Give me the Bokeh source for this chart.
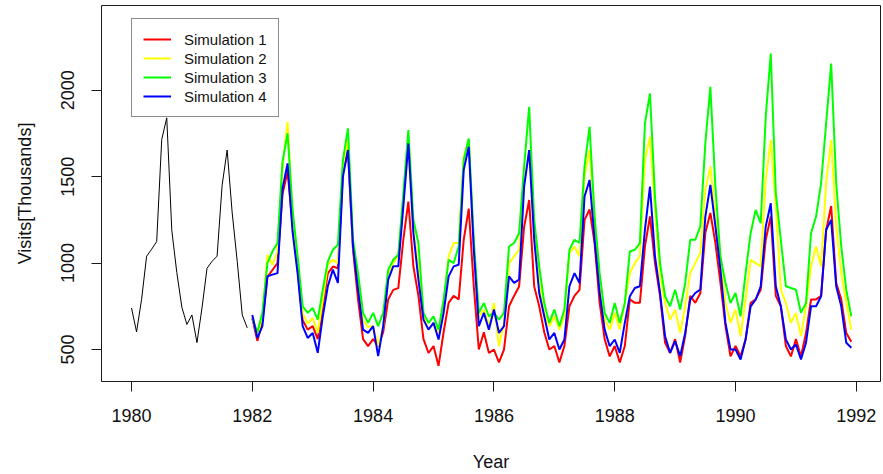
import numpy as np
from bokeh.plotting import figure
from bokeh.models import Legend, LegendItem, Range1d, FixedTicker
from bokeh.embed import file_html
from bokeh.resources import INLINE

# ---------------- data ----------------
hist_start = 1980
sim_start = 1982

history = [740, 602, 790, 1040, 1080, 1125, 1715, 1840, 1190, 945, 745, 645,
           700, 540, 740, 970, 1010, 1040, 1450, 1654, 1290, 1010, 700, 625]

sim1 = [680, 550, 660, 920, 960, 1000, 1400, 1530, 1220, 960, 670, 615,
        635, 560, 750, 940, 980, 970, 1520, 1660, 1080, 790, 560, 520,
        560, 520, 600, 790, 845, 855, 1135, 1356, 980, 810, 560, 480,
        520, 405, 600, 770, 810, 790, 1135, 1315, 865, 500, 600, 480,
        500, 425, 500, 750, 810, 865, 1210, 1365, 865, 750, 600, 500,
        520, 425, 520, 750, 810, 845, 1250, 1310, 1115, 770, 560, 460,
        520, 425, 520, 790, 770, 770, 1095, 1270, 1000, 810, 540, 480,
        560, 425, 580, 810, 770, 825, 1175, 1290, 1115, 885, 635, 460,
        520, 460, 560, 770, 790, 845, 1135, 1270, 810, 750, 520, 460,
        560, 460, 595, 790, 790, 810, 1190, 1330, 885, 790, 595, 545]

sim2 = [690, 580, 690, 1048, 990, 1067, 1560, 1817, 1270, 1000, 710, 650,
        683, 596, 789, 990, 1019, 1000, 1560, 1712, 1100, 900, 670, 630,
        635, 520, 635, 935, 1000, 1040, 1365, 1654, 1190, 980, 692, 615,
        654, 596, 750, 1039, 1116, 1116, 1615, 1712, 1096, 692, 730, 635,
        769, 519, 654, 1000, 1039, 1077, 1462, 1654, 1212, 904, 712, 635,
        692, 615, 692, 1058, 1096, 1039, 1500, 1654, 1250, 865, 673, 615,
        712, 615, 769, 943, 1000, 1039, 1596, 1731, 1308, 923, 769, 673,
        731, 596, 750, 943, 1000, 1058, 1423, 1558, 1269, 1039, 769, 654,
        731, 577, 789, 1019, 1000, 981, 1481, 1712, 1327, 846, 769, 654,
        712, 577, 750, 981, 1096, 981, 1462, 1712, 1212, 942, 769, 615]

sim3 = [680, 600, 712, 1000, 1067, 1116, 1587, 1750, 1308, 1039, 750, 712,
        740, 673, 846, 1010, 1077, 1106, 1596, 1779, 1135, 942, 712, 654,
        712, 635, 712, 962, 1019, 1048, 1404, 1769, 1250, 1116, 712, 654,
        692, 615, 789, 1019, 1000, 1096, 1596, 1721, 1135, 712, 769, 692,
        712, 673, 712, 1096, 1116, 1173, 1558, 1904, 1250, 981, 769, 654,
        731, 635, 731, 1077, 1135, 1116, 1558, 1789, 1269, 942, 712, 654,
        769, 654, 769, 1067, 1077, 1116, 1808, 1981, 1385, 1000, 808, 750,
        846, 731, 885, 1135, 1135, 1212, 1693, 2019, 1442, 1039, 885, 769,
        827, 692, 942, 1173, 1308, 1231, 1846, 2212, 1404, 1135, 866, 856,
        846, 712, 769, 1173, 1269, 1462, 1808, 2154, 1462, 1096, 846, 692]

sim4 = [700, 567, 635, 923, 933, 942, 1430, 1577, 1180, 940, 635, 567,
        596, 481, 692, 866, 962, 885, 1500, 1654, 1096, 846, 615, 596,
        635, 462, 635, 904, 981, 981, 1327, 1692, 1173, 904, 673, 615,
        654, 558, 712, 923, 981, 990, 1539, 1673, 1077, 635, 712, 615,
        731, 596, 635, 923, 885, 904, 1442, 1654, 1135, 827, 692, 558,
        596, 500, 558, 866, 942, 885, 1385, 1481, 1135, 827, 615, 519,
        558, 481, 654, 808, 856, 866, 1193, 1442, 1039, 827, 577, 481,
        548, 462, 596, 789, 827, 846, 1269, 1452, 1212, 962, 654, 500,
        500, 442, 558, 750, 789, 866, 1212, 1346, 866, 750, 558, 500,
        529, 442, 539, 750, 750, 808, 1192, 1250, 866, 750, 539, 510]

sim_labels = ["Simulation 1", "Simulation 2", "Simulation 3", "Simulation 4"]
sim_colors = ["#FF0000", "#FFFF00", "#00FF00", "#0000FF"]
x_ticks = [1980, 1982, 1984, 1986, 1988, 1990, 1992]
y_ticks = [500, 1000, 1500, 2000]

# ---------------- figure ----------------
FONT = "Liberation Sans"

t_hist = hist_start + np.arange(len(history)) / 12.0
t_sim = sim_start + np.arange(len(sim1)) / 12.0

p = figure(width=883, height=474, output_backend="svg", toolbar_location=None,
           x_range=Range1d(1979.503, 1992.40), y_range=Range1d(315, 2490),
           min_border_left=101, min_border_right=3, min_border_top=5,
           min_border_bottom=92)

p.background_fill_color = "white"
p.border_fill_color = "white"
p.outline_line_color = "#1a1a1a"
p.outline_line_width = 1
p.xgrid.visible = False
p.ygrid.visible = False

p.line(t_hist, history, line_color="black", line_width=1)

renderers = []
for data, col in zip([sim1, sim2, sim3, sim4], sim_colors):
    r = p.line(t_sim, data, line_color=col, line_width=2)
    renderers.append(r)

for ax in (p.xaxis[0], p.yaxis[0]):
    ax.axis_line_color = None
    ax.major_tick_line_color = "#1a1a1a"
    ax.major_tick_out = 10
    ax.major_tick_in = 0
    ax.minor_tick_line_color = None
    ax.major_label_text_font = FONT
    ax.major_label_text_font_size = "18px"
    ax.major_label_text_color = "#111111"
    ax.axis_label_text_font = FONT
    ax.axis_label_text_font_size = "18px"
    ax.axis_label_text_font_style = "normal"
    ax.axis_label_text_color = "#111111"

p.xaxis.ticker = FixedTicker(ticks=x_ticks)
p.yaxis.ticker = FixedTicker(ticks=y_ticks)
p.xaxis.axis_label = "Year"
p.yaxis.axis_label = "Visits[Thousands]"
p.yaxis.major_label_orientation = "vertical"
p.xaxis.major_label_standoff = 17
p.yaxis.major_label_standoff = 17
p.xaxis.axis_label_standoff = 27
p.yaxis.axis_label_standoff = 24

legend = Legend(items=[LegendItem(label=lab, renderers=[r])
                       for lab, r in zip(sim_labels, renderers)],
                location=(30, 264), orientation="vertical",
                label_text_font=FONT, label_text_font_size="15px",
                label_text_color="#111111",
                glyph_width=28, glyph_height=18, label_height=18,
                spacing=1, padding=11, label_standoff=13, margin=0,
                border_line_color="#1a1a1a", border_line_width=1,
                background_fill_color="white", background_fill_alpha=1)
p.add_layout(legend)

open("out.html", "w").write(file_html(p, INLINE))
